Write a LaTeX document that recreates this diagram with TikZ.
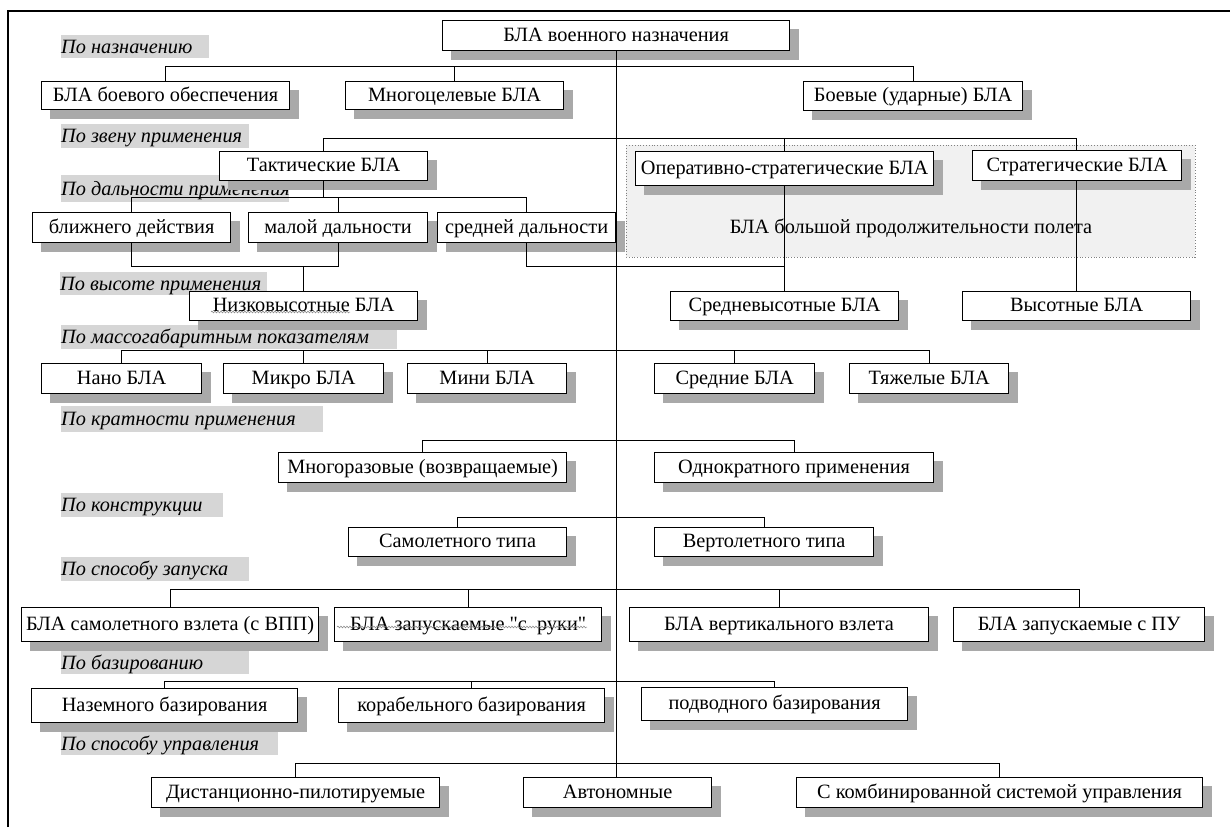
\documentclass[tikz,border=0pt]{standalone}
\usepackage{fontspec}
\setmainfont{Liberation Serif}
\newfontfamily\rawfont{Liberation Serif}
\usetikzlibrary{decorations.pathmorphing}
\pgfdeclarelayer{region}
\pgfdeclarelayer{shadow}
\pgfdeclarelayer{lines}
\pgfsetlayers{region,shadow,lines,main}
\definecolor{shgray}{HTML}{A9A9A9}
\definecolor{lblgray}{HTML}{D6D6D6}
\definecolor{regfill}{HTML}{F1F1F1}
\newcommand\bfsz{\fontsize{20.3}{22}\selectfont}
\tikzset{
  box/.style={draw=black, line width=1.2pt, fill=white, inner sep=0pt, anchor=north west,
    font=\bfsz, text height=14pt, text depth=2.6pt},
  lbl/.style={fill=lblgray, inner sep=0pt, anchor=north west,
    font=\bfsz\itshape, text height=14pt, text depth=0.6pt},
  conn/.style={draw=black, line width=1pt},
  spell/.style={draw=gray, line width=0.5pt, decorate, decoration={snake, amplitude=0.9pt, segment length=3pt}},
}
\newcommand\mybox[6]{\node[box, minimum width={(#4-#2)*1pt}, minimum height={(#5-#3)*1pt}] (#1) at (#2,#3) {#6};}
\newcommand\mylabel[6]{\node[lbl, minimum height=#5pt] (#1) at (#2,#3) {\makebox[#4pt][l]{#6}};}
\begin{document}
\begin{tikzpicture}[x=1pt,y=-1pt]
\useasboundingbox (0,0) rectangle (1230,827);
% frame
\draw[line width=1.2pt] (8,827) -- (8,11) -- (1230,11);
% region
\begin{pgfonlayer}{region}
\draw[fill=regfill, draw=gray, dotted, line width=0.8pt] (626,145) rectangle (1195,257);
\end{pgfonlayer}
\node[font=\bfsz] (reg) at (911,228) {БЛА большой продолжительности полета};
% labels
\begin{pgfonlayer}{shadow}
\mylabel{l1}{61}{35}{148}{23}{По назначению}
\mylabel{l2}{61}{124}{188}{24}{По звену применения}
\mylabel{l3}{61}{175}{228}{27}{По дальности применения}
\mylabel{l4}{60}{272}{207}{23}{По высоте применения}
\mylabel{l5}{61}{325}{336}{24}{По массогабаритным показателям}
\mylabel{l6}{61}{406}{262}{26}{По кратности применения}
\mylabel{l7}{61}{493}{162}{24}{По конструкции}
\mylabel{l8}{61}{557}{188}{24}{По способу запуска}
\mylabel{l9}{61}{651}{188}{23}{По базированию}
\mylabel{l10}{61}{732}{217}{23}{По способу управления}
\end{pgfonlayer}
% boxes
\mybox{top}{442}{20}{789}{50}{БЛА военного назначения}
\mybox{a1}{41}{81}{289}{109}{БЛА боевого обеспечения}
\mybox{a2}{345}{81}{563}{109}{Многоцелевые БЛА}
\mybox{a3}{803}{81}{1022}{110}{Боевые (ударные) БЛА}
\mybox{tac}{219}{151}{427}{180}{Тактические БЛА}
\mybox{ops}{635}{151}{933}{185}{Оперативно-стратегические БЛА}
\mybox{str}{972}{150}{1181}{180}{Стратегические БЛА}
\mybox{bl}{32}{212}{230}{242}{ближнего действия}
\mybox{ml}{248}{212}{427}{242}{малой дальности}
\mybox{sr}{437}{212}{615}{242}{средней дальности}
\mybox{nz}{189}{291}{417}{320}{Низковысотные БЛА}
\mybox{sv}{670}{291}{898}{320}{Средневысотные БЛА}
\mybox{vs}{962}{291}{1190}{320}{Высотные БЛА}
\mybox{m1}{41}{363}{201}{393}{Нано БЛА}
\mybox{m2}{223}{363}{383}{393}{Микро БЛА}
\mybox{m3}{407}{363}{566}{393}{Мини БЛА}
\mybox{m4}{654}{363}{814}{393}{Средние БЛА}
\mybox{m5}{849}{363}{1008}{393}{Тяжелые БЛА}
\mybox{k1}{278}{452}{566}{482}{Многоразовые (возвращаемые)}
\mybox{k2}{654}{452}{933}{482}{Однократного применения}
\mybox{c1}{348}{527}{566}{556}{Самолетного типа}
\mybox{c2}{654}{527}{873}{556}{Вертолетного типа}
\mybox{z1}{21}{607}{318}{641}{БЛА самолетного взлета (с ВПП)}
\mybox{z2}{334}{607}{601}{641}{БЛА запускаемые {\rawfont"}с\ \ руки{\rawfont"}}
\mybox{z3}{629}{607}{928}{641}{БЛА вертикального взлета}
\mybox{z4}{953}{607}{1204}{641}{БЛА запускаемые с ПУ}
\mybox{b1}{31}{688}{297}{722}{Наземного базирования}
\mybox{b2}{338}{688}{604}{722}{корабельного базирования}
\mybox{b3}{641}{687}{907}{720}{подводного базирования}
\mybox{u1}{151}{777}{439}{807}{Дистанционно-пилотируемые}
\mybox{u2}{523}{777}{711}{807}{Автономные}
\mybox{u3}{796}{777}{1202}{807}{С комбинированной системой управления}
% shadows
\begin{pgfonlayer}{shadow}
\foreach \n in {top,a1,a2,a3,tac,ops,str,bl,ml,sr,nz,sv,vs,m1,m2,m3,m4,m5,k1,k2,c1,c2,z1,z2,z3,z4,b1,b2,b3,u1,u2,u3}
  \fill[shgray] ([xshift=9pt,yshift=-9pt]\n.north west) rectangle ([xshift=9pt,yshift=-9pt]\n.south east);
\end{pgfonlayer}
% connectors
\begin{pgfonlayer}{lines}
\draw[conn] (top.south) -- (top.south |- u2.north);
\draw[conn] (a1.north) -- (a1.north |- 0,66) -| (a3.north);
\draw[conn] (a2.north) -- (a2.north |- 0,66);
\draw[conn] (tac.north) -- (tac.north |- 0,138) -| (vs.north);
\draw[conn] (ops.north |- 0,138) -- (sv.north);
\draw[conn] (tac.south) -- (tac.south |- 0,197);
\draw[conn] (bl.north) -- (bl.north |- 0,197) -| (sr.north);
\draw[conn] (ml.north) -- (ml.north |- 0,197);
\draw[conn] (bl.south) -- (bl.south |- 0,266) -| (ml.south);
\draw[conn] (nz.north) -- (nz.north |- 0,266);
\draw[conn] (sr.south) |- (sv.north |- 0,266);
\draw[conn] (m1.north) -- (m1.north |- 0,350) -| (m5.north);
\foreach \n in {m2,m3,m4} \draw[conn] (\n.north) -- (\n.north |- 0,350);
\draw[conn] (k1.north) -- (k1.north |- 0,440) -| (k2.north);
\draw[conn] (c1.north) -- (c1.north |- 0,517) -| (c2.north);
\draw[conn] (z1.north) -- (z1.north |- 0,589) -| (z4.north);
\foreach \n in {z2,z3} \draw[conn] (\n.north) -- (\n.north |- 0,589);
\draw[conn] (b1.north) -- (b1.north |- 0,681) -| (b3.north);
\draw[conn] (b2.north) -- (b2.north |- 0,681);
\draw[conn] (u1.north) -- (u1.north |- 0,763) -| (u3.north);
\end{pgfonlayer}
% spell-check underlines
\draw[spell] (211,312) -- (350,312);
\draw[spell] (337,627) -- (587,627);
\end{tikzpicture}
\end{document}
